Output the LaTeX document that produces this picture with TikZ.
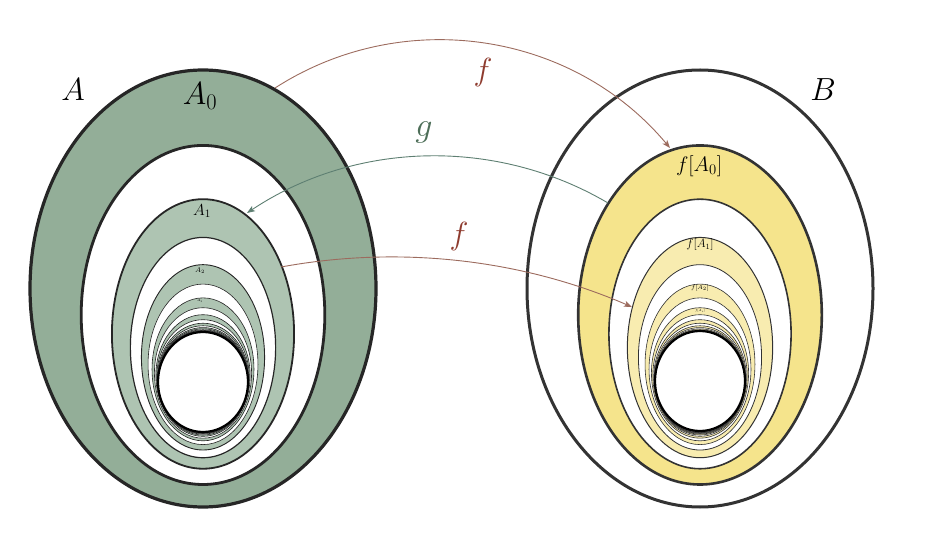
\RequirePackage{fix-cm}
\documentclass[tikz,border=0pt]{standalone}
\usetikzlibrary{arrows.meta}
\definecolor{agreen}{HTML}{93AE98}
\definecolor{lgreen}{HTML}{AEC4B2}
\definecolor{byel}{HTML}{F5E48C}
\definecolor{lyel}{HTML}{F8ECB0}
\definecolor{fcol}{HTML}{9C6B5E}
\definecolor{gcol}{HTML}{5E7F72}
\definecolor{flab}{HTML}{8E3B2E}
\definecolor{glab}{HTML}{4D6E58}
\tikzset{
  bigl/.style={inner sep=0pt, font=\fontsize{32}{38}\selectfont},
  maparrow/.style={line width=0.9pt, -{Stealth[length=8pt,width=6pt,inset=2pt]}},
}
\begin{document}
\begin{tikzpicture}[x=1pt,y=-1pt]
\useasboundingbox (0,0) rectangle (928,534);
% left family: A, A0, A1, ...
\foreach \n in {0,...,24} {
  \pgfmathsetmacro\erx{45+128*0.6^\n}
  \pgfmathsetmacro\etop{332-262*0.712^\n}
  \pgfmathsetmacro\ebot{432+75*0.7^\n}
  \pgfmathsetmacro\ecy{(\etop+\ebot)/2}
  \pgfmathsetmacro\ery{(\ebot-\etop)/2}
  \ifnum\n=0\relax \def\lc{agreen}\else\ifodd\n\relax \def\lc{white}\else\def\lc{lgreen}\fi\fi
  \edef\lw{\ifcase\n\space 3.2\or 2.8\or 1.8\or 1.2\or 0.9\else 0.6\fi}
  \filldraw[fill=\lc, draw=black!85, line width=\lw pt]
    (203,\ecy) ellipse [x radius=\erx pt, y radius=\ery pt];
}
\filldraw[fill=white, draw=black, line width=2.2pt] (203,382) ellipse [x radius=45pt, y radius=50pt];
% right family: B, f[A0], f[A1], ...
\foreach \n in {0,...,24} {
  \pgfmathsetmacro\erx{45+128*0.6^\n}
  \pgfmathsetmacro\etop{332-262*0.712^\n}
  \pgfmathsetmacro\ebot{432+75*0.7^\n}
  \pgfmathsetmacro\ecy{(\etop+\ebot)/2}
  \pgfmathsetmacro\ery{(\ebot-\etop)/2}
  \ifnum\n=1\relax \def\lc{byel}\else\ifodd\n\relax \def\lc{lyel}\else\def\lc{white}\fi\fi
  \edef\lw{\ifcase\n\space 3.0\or 2.6\or 1.6\or 1.0\or 0.8\else 0.6\fi}
  \filldraw[fill=\lc, draw=black!80, line width=\lw pt]
    (700,\ecy) ellipse [x radius=\erx pt, y radius=\ery pt];
}
\filldraw[fill=white, draw=black, line width=2.2pt] (700,381) ellipse [x radius=45pt, y radius=50pt];
% labels
\node[bigl] (lA) at (73,90) {$A$};
\node[bigl] (lA0) at (200,96) {$A_0$};
\node[bigl] (lB) at (823,90) {$B$};
\node[bigl, text=flab] (lf1) at (483,73) {$f$};
\node[bigl, text=glab, font=\fontsize{34}{40}\selectfont] (lg) at (424,132) {$g$};
\node[bigl, text=flab] (lf2) at (459,237) {$f$};
\node[inner sep=0pt, font=\fontsize{21}{25}\selectfont] (lfA0) at (699,166) {$f[A_0]$};
\node[inner sep=0pt, font=\fontsize{16}{19}\selectfont] (lA1) at (202,211) {$A_1$};
\node[inner sep=0pt, font=\fontsize{12}{14}\selectfont] (lfA1) at (700,245) {$f[A_1]$};
\node[inner sep=0pt, font=\fontsize{7}{8}\selectfont] (lA2) at (200,271) {$A_2$};
\node[inner sep=0pt, font=\fontsize{6}{7}\selectfont] (lfA2) at (700,288) {$f[A_2]$};
\node[inner sep=0pt, font=\fontsize{3.5}{4}\selectfont] (lA3) at (200,301) {$A_3$};
\node[inner sep=0pt, font=\fontsize{3}{4}\selectfont] (lfA3) at (700,311) {$f[A_3]$};
% arrow end points
\coordinate (f1s) at (275,88);
\coordinate (f1e) at (670,148);
\coordinate (gs) at (608,203);
\coordinate (ge) at (247,213);
\coordinate (f2s) at (281,267);
\coordinate (f2e) at (632,307);
\draw[maparrow, fcol] (f1s) .. controls (403,5.6) and (572.4,31.4) .. (f1e);
\draw[maparrow, gcol] (gs) .. controls (496,137) and (355,141) .. (ge);
\draw[maparrow, fcol] (f2s) .. controls (399.3,245.2) and (521.7,259.2) .. (f2e);
\end{tikzpicture}
\end{document}
